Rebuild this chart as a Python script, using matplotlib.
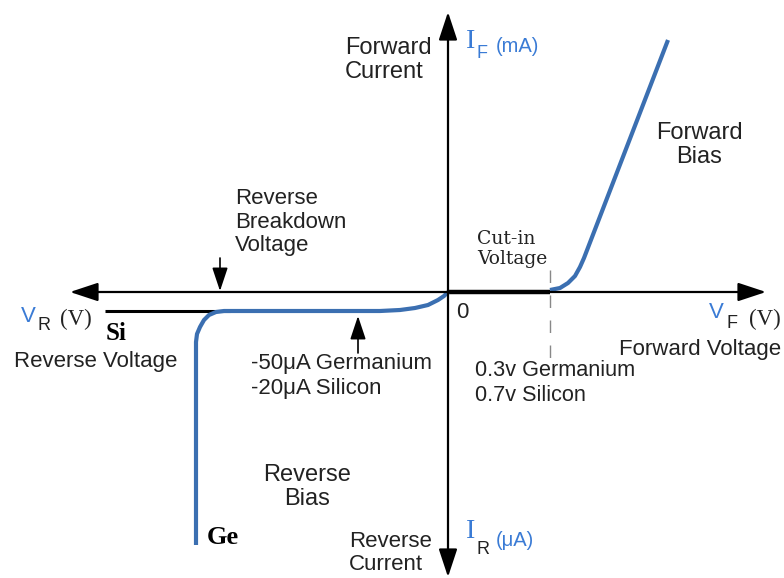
import matplotlib
matplotlib.use("Agg")
import matplotlib.pyplot as plt

# ---- data (pixel-scaled units: origin at the axes crossing, y up) ----
rev_x = [-252, -252, -251, -248, -244, -239, -232, -224, -150, -68, -48, -33, -20, -10, -4, 0]
rev_y = [-253, -50, -42, -35, -28, -23, -20, -19, -19, -19, -18, -16, -13, -8, -4, 0]
cutin_x = [0, 102]
cutin_y = [0, 0]
fwd_x = [102, 112, 120, 127, 132, 136, 220]
fwd_y = [2, 4, 9, 16, 25, 34, 252]
si_x = [-343, -218]
si_y = [-19, -19]

BLUE = "#3b6fb1"
TBLUE = "#3a7bd5"
FS = 16
SANS = "Liberation Sans"
SERIF = "Liberation Serif"

fig = plt.figure(figsize=(7.84, 5.78), dpi=100)
ax = fig.add_axes([0, 0, 1, 1])
ax.set_xlim(-448, 336)
ax.set_ylim(-286, 292)
ax.axis("off")

def P(px, py):
    return (px - 448, 292 - py)

big = dict(arrowstyle="-|>,head_length=1.15,head_width=0.38", color="black", lw=1.6,
           mutation_scale=15, shrinkA=0, shrinkB=0)
# axes arrows
ax.annotate("", xy=P(70, 292), xytext=P(448, 292), arrowprops=big)
ax.annotate("", xy=P(766, 292), xytext=P(448, 292), arrowprops=big)
ax.annotate("", xy=P(448, 12), xytext=P(448, 292), arrowprops=big)
ax.annotate("", xy=P(448, 577), xytext=P(448, 292), arrowprops=big)

small = dict(arrowstyle="-|>,head_length=1.2,head_width=0.4", color="black", lw=1.2,
             mutation_scale=12, shrinkA=0, shrinkB=0)
ax.annotate("", xy=P(220, 291), xytext=P(220, 258), arrowprops=small)
ax.annotate("", xy=P(358, 316), xytext=P(358, 353), arrowprops=small)

# dashed cut-in marker
ax.plot([102, 102], [22, -70], color="#888888", lw=1, linestyle=(0, (9, 9)))

# curves
ax.plot(si_x, si_y, color="black", lw=2.2, solid_capstyle="butt")
ax.plot(cutin_x, cutin_y, color="black", lw=3.2, solid_capstyle="butt")
ax.plot(rev_x, rev_y, color=BLUE, lw=3, solid_capstyle="butt", solid_joinstyle="round")
ax.plot(fwd_x, fwd_y, color=BLUE, lw=3, solid_capstyle="butt", solid_joinstyle="round")

def T(px, py, s, **kw):
    kw.setdefault("family", SANS)
    kw.setdefault("fontsize", FS)
    kw.setdefault("color", "#222222")
    kw.setdefault("linespacing", 1.2)
    ax.text(*P(px, py), s, **kw)

# top labels
T(345, 60, "Forward\nCurrent", fontsize=17, ha="left", va="center", linespacing=1.1)
T(466, 42, "I", family=SERIF, fontsize=20, color=TBLUE, va="center", ha="left")
T(477, 53, "F", fontsize=13, color=TBLUE, va="center", ha="left")
T(496, 47, "(mA)", fontsize=14.5, color=TBLUE, va="center", ha="left")

T(699, 145, "Forward\nBias", fontsize=17, ha="center", va="center", linespacing=1.1)
T(235, 222, "Reverse\nBreakdown\nVoltage", ha="left", va="center", linespacing=1.15)
T(477, 249, "Cut-in\nVoltage", family="DejaVu Serif", fontsize=13.5, ha="left", va="center",
  linespacing=1.1)
T(456, 312, "0", ha="left", va="center")

T(21, 316, "V", fontsize=16, color=TBLUE, ha="left", va="center")
T(37, 326, "R", fontsize=13, ha="left", va="center")
T(60, 319, "(V)", family=SERIF, fontsize=16.5, ha="left", va="center")
T(106, 334, "Si", family=SERIF, fontsize=18, fontweight="bold", color="black", ha="left", va="center")
T(14, 361, "Reverse Voltage", ha="left", va="center")

T(709, 312, "V", fontsize=16, color=TBLUE, ha="left", va="center")
T(727, 324, "F", fontsize=13, ha="left", va="center")
T(749, 319, "(V)", family=SERIF, fontsize=16.5, ha="left", va="center")
T(781, 349, "Forward Voltage", ha="right", va="center")

T(251, 376, "-50\u03bcA Germanium\n-20\u03bcA Silicon", ha="left", va="center")
T(475, 383, "0.3v Germanium\n0.7v Silicon", fontsize=15.6, ha="left", va="center")
T(307, 487, "Reverse\nBias", fontsize=17, ha="center", va="center", linespacing=1.1)
T(207, 537, "Ge", family=SERIF, fontsize=19, fontweight="bold", color="black", ha="left", va="center")
T(349, 553, "Reverse\nCurrent", ha="left", va="center", linespacing=1.15)
T(466, 532, "I", family=SERIF, fontsize=20, color=TBLUE, va="center", ha="left")
T(477, 549, "R", fontsize=13, ha="left", va="center")
T(496, 540, "(\u03bcA)", fontsize=14.5, color=TBLUE, va="center", ha="left")

fig.savefig("out.png", dpi=100)
